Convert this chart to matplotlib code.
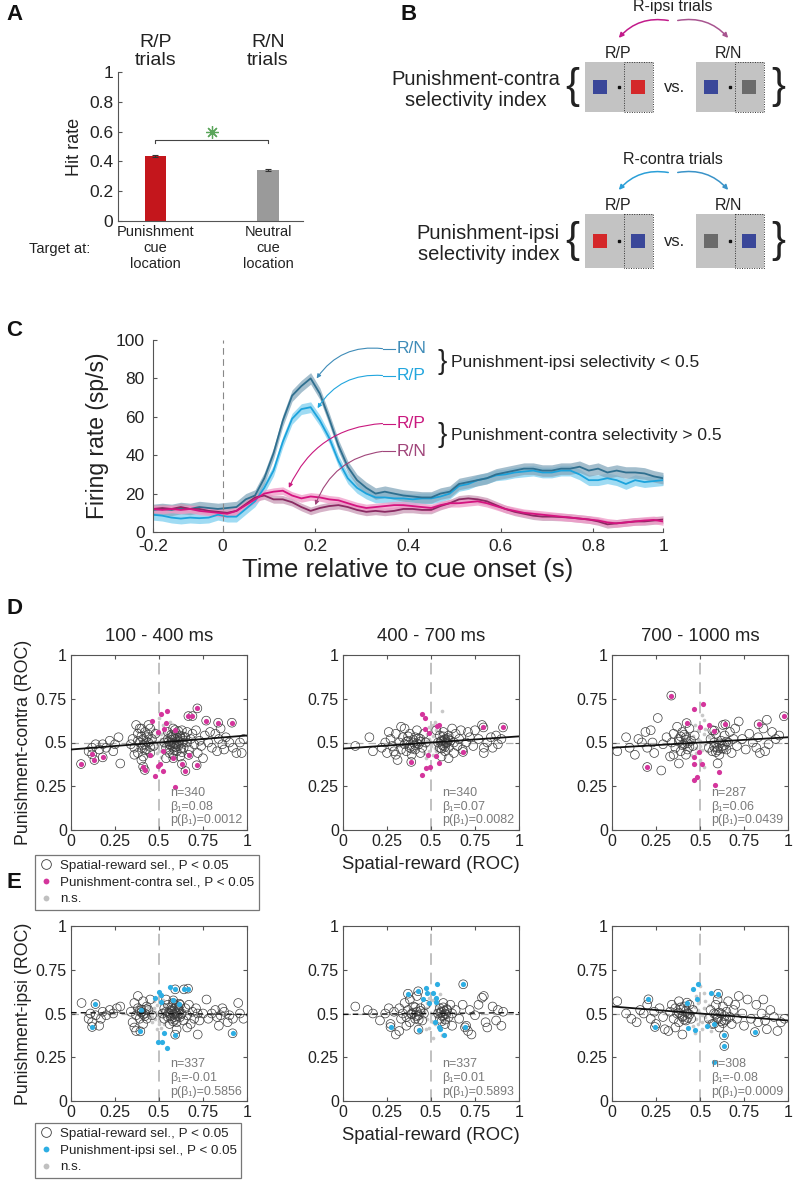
import numpy as np
import matplotlib.pyplot as plt
from matplotlib.patches import Rectangle, FancyArrowPatch
from matplotlib.lines import Line2D

plt.rcParams['font.family'] = ['Liberation Sans', 'DejaVu Sans']
NARROW = ['Liberation Sans Narrow', 'Liberation Sans', 'DejaVu Sans']

# ---------------- data ----------------
# Panel A: hit rate
hit_labels = ['Punishment\ncue\nlocation', 'Neutral\ncue\nlocation']
hit_titles = ['R/P\ntrials', 'R/N\ntrials']
hit_rate = [0.435, 0.345]
hit_err = [0.006, 0.007]

# Panel C: firing rate (sp/s), time in s
t_fr = np.arange(-0.15, 0.951, 0.02)
fr_ipsi_rn = [11.5, 12, 11.5, 12.5, 12, 13, 12.5, 12, 12.5, 13, 17, 19, 28, 41, 58, 71, 76, 80,
              72, 59, 45, 34, 27, 23, 20, 21, 20, 19, 18.5, 18, 18, 20, 21, 25, 26, 27, 28, 30,
              31, 32, 33, 33, 32, 32, 33, 33, 34, 32, 33, 31, 32, 31, 31, 30.5, 29, 28]
fr_ipsi_rp = [9, 8.5, 7.5, 7, 7.5, 7.2, 7.5, 9, 8, 8, 12, 16, 23, 32, 47, 59, 64, 65,
              58, 49, 37, 28, 23, 20, 18, 18, 17.5, 17.5, 17, 17.5, 17.5, 18.5, 20, 24, 25, 27, 28, 29.5,
              30, 31, 31.5, 32, 31, 31, 32, 32, 30, 27, 27, 28, 27, 25, 27, 26, 26.5, 27]
fr_contra_rp = [12, 11.5, 12, 11.5, 12, 11, 10.5, 10, 9.5, 11, 14, 17, 20, 21, 21.5, 19, 17.5, 18.5,
                18, 17, 16.5, 15, 13.5, 12.5, 13, 13.5, 14, 14, 13.5, 13, 12.5, 14, 15, 15, 15.5, 16, 15, 13.5,
                12, 11, 10, 9.5, 9, 8.5, 8, 7.5, 7, 6.5, 6, 5, 4.5, 5, 5.5, 6, 6.3, 5.5]
fr_contra_rn = [12, 12.5, 12, 13, 12, 12, 11, 10.5, 10, 11, 14.5, 18, 19, 17, 17, 15.5, 13, 11,
                12.5, 13.5, 14, 13, 11.5, 10.5, 11, 10.5, 11, 12, 12, 11.5, 11.5, 13.5, 15, 17, 17.5, 17, 16, 14,
                12, 10.5, 9.5, 8.5, 8, 8, 7.8, 7.5, 7, 6.5, 5.5, 4, 4.5, 5, 5.5, 5.5, 6, 6.5]
fr_sem = [3.0, 2.8, 2.0, 2.0]

# Panels D/E: ROC scatter; open = spatial-reward sel. only, sel = selective dots
# (selc: also spatial-reward sel., drawn circled), ns = not significant
d1_open_x = [0.10, 0.12, 0.14, 0.16, 0.18, 0.20, 0.22, 0.24, 0.25, 0.27, 0.28, 0.34, 0.35, 0.36, 0.37, 0.38, 0.38,
             0.39, 0.40, 0.40, 0.41, 0.41, 0.42, 0.42, 0.43, 0.43, 0.44, 0.45, 0.45, 0.46, 0.47, 0.48, 0.36, 0.39,
             0.44, 0.40, 0.53, 0.54, 0.55, 0.55, 0.56, 0.56, 0.57, 0.57, 0.58, 0.58, 0.59, 0.59, 0.60, 0.60, 0.61,
             0.61, 0.62, 0.62, 0.63, 0.63, 0.64, 0.65, 0.66, 0.66, 0.67, 0.68, 0.69, 0.70, 0.71, 0.72, 0.73, 0.74,
             0.75, 0.76, 0.54, 0.58, 0.78, 0.80, 0.82, 0.83, 0.84, 0.85, 0.86, 0.88, 0.90, 0.92, 0.94, 0.96, 0.97,
             0.98, 0.79, 0.87,
             0.555, 0.565, 0.575, 0.585, 0.595, 0.605, 0.615, 0.625, 0.635, 0.57, 0.59, 0.61, 0.63, 0.56, 0.58,
             0.60, 0.62, 0.64, 0.41, 0.43, 0.45, 0.38, 0.40, 0.42, 0.44]
d1_open_y = [0.45, 0.47, 0.49, 0.46, 0.49, 0.47, 0.51, 0.45, 0.49, 0.53, 0.38, 0.49, 0.52, 0.47, 0.60, 0.55, 0.44,
             0.50, 0.58, 0.47, 0.52, 0.42, 0.49, 0.56, 0.46, 0.53, 0.50, 0.58, 0.44, 0.52, 0.48, 0.55, 0.43, 0.58,
             0.60, 0.40, 0.50, 0.47, 0.52, 0.56, 0.49, 0.44, 0.53, 0.50, 0.47, 0.58, 0.52, 0.49, 0.55, 0.45, 0.51,
             0.48, 0.54, 0.42, 0.50, 0.57, 0.47, 0.53, 0.50, 0.56, 0.46, 0.52, 0.55, 0.49, 0.57, 0.44, 0.51, 0.48,
             0.41, 0.54, 0.41, 0.43, 0.50, 0.47, 0.55, 0.45, 0.52, 0.58, 0.49, 0.53, 0.50, 0.47, 0.44, 0.50, 0.44,
             0.52, 0.56, 0.46,
             0.505, 0.485, 0.515, 0.495, 0.475, 0.525, 0.505, 0.465, 0.535, 0.545, 0.455, 0.565, 0.445, 0.46, 0.54,
             0.49, 0.53, 0.51, 0.485, 0.505, 0.475, 0.51, 0.535, 0.455, 0.545]
d1_selc_x = [0.057, 0.12, 0.133, 0.18, 0.41, 0.419, 0.59, 0.581, 0.63, 0.65, 0.667, 0.69, 0.669, 0.718, 0.714,
             0.768, 0.836, 0.914]
d1_selc_y = [0.377, 0.432, 0.40, 0.415, 0.362, 0.343, 0.571, 0.41, 0.377, 0.337, 0.651, 0.651, 0.429, 0.695,
             0.37, 0.625, 0.613, 0.613]
d1_sel_x = [0.448, 0.461, 0.476, 0.497, 0.512, 0.547, 0.539, 0.53, 0.52, 0.505, 0.497, 0.52, 0.59]
d1_sel_y = [0.429, 0.625, 0.309, 0.56, 0.663, 0.682, 0.61, 0.575, 0.451, 0.377, 0.366, 0.339, 0.248]
d1_ns_x = [0.45, 0.47, 0.48, 0.49, 0.50, 0.50, 0.51, 0.52, 0.53, 0.48, 0.46, 0.52, 0.51, 0.49, 0.54, 0.47, 0.50,
           0.55, 0.45, 0.53, 0.49, 0.51, 0.56, 0.44]
d1_ns_y = [0.50, 0.53, 0.47, 0.55, 0.50, 0.45, 0.52, 0.48, 0.56, 0.51, 0.49, 0.60, 0.42, 0.44, 0.53, 0.58, 0.64,
           0.48, 0.55, 0.45, 0.49, 0.55, 0.62, 0.52]

d2_open_x = [0.07, 0.15, 0.17, 0.22, 0.24, 0.25, 0.27, 0.28, 0.30, 0.30, 0.31, 0.32, 0.33, 0.34, 0.35, 0.35, 0.36,
             0.37, 0.38, 0.38, 0.39, 0.40, 0.41, 0.41, 0.42, 0.43, 0.44, 0.44, 0.45, 0.46, 0.47, 0.26, 0.29, 0.33,
             0.54, 0.55, 0.55, 0.56, 0.57, 0.57, 0.58, 0.58, 0.59, 0.60, 0.60, 0.61, 0.62, 0.63, 0.63, 0.64, 0.65,
             0.66, 0.67, 0.68, 0.70, 0.71, 0.72, 0.56, 0.60, 0.53, 0.74, 0.75, 0.77, 0.79, 0.80, 0.82, 0.84, 0.85,
             0.87, 0.88, 0.90, 0.80,
             0.555, 0.565, 0.575, 0.585, 0.595, 0.57, 0.58, 0.59, 0.56, 0.60, 0.36, 0.38, 0.40, 0.42, 0.44, 0.37,
             0.39, 0.41, 0.43]
d2_open_y = [0.48, 0.53, 0.45, 0.47, 0.50, 0.44, 0.52, 0.48, 0.55, 0.43, 0.40, 0.50, 0.46, 0.53, 0.49, 0.58, 0.45,
             0.51, 0.47, 0.55, 0.43, 0.50, 0.53, 0.46, 0.57, 0.49, 0.52, 0.44, 0.47, 0.55, 0.50, 0.56, 0.45, 0.59,
             0.50, 0.47, 0.54, 0.51, 0.48, 0.56, 0.52, 0.45, 0.50, 0.54, 0.47, 0.51, 0.58, 0.44, 0.50, 0.55, 0.48,
             0.52, 0.57, 0.46, 0.50, 0.56, 0.53, 0.42, 0.41, 0.57, 0.48, 0.57, 0.52, 0.60, 0.44, 0.50, 0.53, 0.47,
             0.54, 0.49, 0.52, 0.47,
             0.505, 0.485, 0.515, 0.495, 0.525, 0.535, 0.475, 0.505, 0.465, 0.515, 0.505, 0.485, 0.515, 0.495,
             0.505, 0.535, 0.465, 0.485, 0.525]
d2_selc_x = [0.388, 0.798, 0.909, 0.682]
d2_selc_y = [0.389, 0.586, 0.586, 0.446]
d2_sel_x = [0.449, 0.468, 0.466, 0.487, 0.534, 0.544, 0.482, 0.472, 0.497, 0.447, 0.528, 0.546]
d2_sel_y = [0.662, 0.641, 0.579, 0.556, 0.592, 0.601, 0.429, 0.355, 0.36, 0.317, 0.421, 0.383]
d2_ns_x = [0.45, 0.47, 0.48, 0.49, 0.50, 0.51, 0.52, 0.53, 0.48, 0.46, 0.52, 0.51, 0.49, 0.54, 0.47, 0.50, 0.55,
           0.56, 0.53, 0.49, 0.51, 0.44, 0.57]
d2_ns_y = [0.52, 0.48, 0.55, 0.45, 0.50, 0.54, 0.47, 0.57, 0.51, 0.44, 0.62, 0.43, 0.59, 0.51, 0.41, 0.48, 0.56,
           0.68, 0.45, 0.52, 0.60, 0.49, 0.53]

d3_open_x = [0.03, 0.08, 0.10, 0.13, 0.15, 0.17, 0.19, 0.20, 0.22, 0.23, 0.24, 0.26, 0.28, 0.29, 0.31, 0.33, 0.34,
             0.35, 0.36, 0.37, 0.38, 0.39, 0.40, 0.41, 0.42, 0.43, 0.44, 0.45, 0.46, 0.47, 0.38, 0.42, 0.35, 0.55,
             0.56, 0.57, 0.58, 0.59, 0.60, 0.61, 0.62, 0.63, 0.64, 0.65, 0.66, 0.67, 0.68, 0.69, 0.70, 0.71, 0.72,
             0.60, 0.63, 0.57, 0.74, 0.76, 0.78, 0.80, 0.82, 0.83, 0.84, 0.86, 0.88, 0.89, 0.91, 0.93, 0.95, 0.87,
             0.38, 0.40, 0.42, 0.44, 0.39, 0.41, 0.43, 0.58, 0.60, 0.62, 0.64, 0.59, 0.61, 0.63, 0.65]
d3_open_y = [0.45, 0.53, 0.47, 0.43, 0.52, 0.50, 0.56, 0.47, 0.57, 0.50, 0.44, 0.64, 0.34, 0.49, 0.53, 0.42, 0.50,
             0.55, 0.47, 0.59, 0.52, 0.45, 0.56, 0.49, 0.53, 0.46, 0.58, 0.51, 0.48, 0.54, 0.38, 0.43, 0.43, 0.47,
             0.52, 0.45, 0.50, 0.55, 0.47, 0.43, 0.51, 0.48, 0.54, 0.46, 0.50, 0.56, 0.44, 0.52, 0.58, 0.48, 0.62,
             0.38, 0.60, 0.57, 0.52, 0.46, 0.55, 0.50, 0.47, 0.53, 0.44, 0.58, 0.63, 0.49, 0.56, 0.52, 0.54, 0.45,
             0.505, 0.485, 0.515, 0.475, 0.535, 0.545, 0.495, 0.475, 0.455, 0.465, 0.485, 0.445, 0.495, 0.465, 0.505]
d3_selc_x = [0.337, 0.20, 0.424, 0.581, 0.644, 0.833, 0.977]
d3_selc_y = [0.768, 0.36, 0.611, 0.568, 0.604, 0.604, 0.65]
d3_sel_x = [0.464, 0.515, 0.498, 0.549, 0.496, 0.466, 0.466, 0.511, 0.606, 0.481, 0.464, 0.583]
d3_sel_y = [0.69, 0.722, 0.59, 0.60, 0.448, 0.415, 0.379, 0.377, 0.333, 0.305, 0.284, 0.255]
d3_ns_x = [0.44, 0.46, 0.48, 0.49, 0.50, 0.51, 0.52, 0.53, 0.47, 0.45, 0.52, 0.50, 0.49, 0.54, 0.47, 0.51, 0.55,
           0.43, 0.53, 0.48, 0.50, 0.56, 0.46, 0.52]
d3_ns_y = [0.50, 0.54, 0.47, 0.57, 0.51, 0.46, 0.55, 0.49, 0.60, 0.43, 0.63, 0.40, 0.52, 0.45, 0.38, 0.66, 0.53,
           0.55, 0.58, 0.44, 0.48, 0.47, 0.51, 0.36]

e1_open_x = [0.06, 0.10, 0.11, 0.12, 0.14, 0.16, 0.18, 0.20, 0.22, 0.24, 0.26, 0.28, 0.17, 0.34, 0.35, 0.36, 0.37,
             0.37, 0.38, 0.38, 0.39, 0.40, 0.41, 0.41, 0.42, 0.43, 0.43, 0.44, 0.45, 0.46, 0.36, 0.52, 0.53, 0.53,
             0.54, 0.55, 0.55, 0.56, 0.56, 0.57, 0.57, 0.58, 0.58, 0.59, 0.59, 0.60, 0.60, 0.61, 0.62, 0.62, 0.63,
             0.64, 0.65, 0.66, 0.67, 0.68, 0.69, 0.70, 0.71, 0.72, 0.73, 0.72, 0.66, 0.54, 0.60, 0.75, 0.77, 0.78,
             0.80, 0.82, 0.83, 0.84, 0.85, 0.87, 0.89, 0.90, 0.92, 0.95, 0.96, 0.98, 0.86,
             0.555, 0.565, 0.575, 0.585, 0.595, 0.605, 0.615, 0.625, 0.57, 0.59, 0.61, 0.58, 0.60, 0.40, 0.42,
             0.39, 0.41, 0.43]
e1_open_y = [0.56, 0.47, 0.50, 0.45, 0.49, 0.43, 0.51, 0.49, 0.52, 0.50, 0.53, 0.54, 0.47, 0.51, 0.45, 0.56, 0.49,
             0.40, 0.53, 0.60, 0.47, 0.51, 0.57, 0.44, 0.50, 0.54, 0.47, 0.52, 0.58, 0.49, 0.42, 0.50, 0.53, 0.47,
             0.51, 0.55, 0.48, 0.50, 0.44, 0.52, 0.47, 0.50, 0.56, 0.48, 0.53, 0.50, 0.45, 0.52, 0.48, 0.55, 0.50,
             0.46, 0.53, 0.49, 0.55, 0.44, 0.51, 0.47, 0.53, 0.50, 0.46, 0.38, 0.42, 0.58, 0.41, 0.50, 0.58, 0.47,
             0.50, 0.52, 0.48, 0.43, 0.49, 0.51, 0.45, 0.49, 0.47, 0.56, 0.50, 0.47, 0.53,
             0.505, 0.485, 0.515, 0.495, 0.505, 0.485, 0.515, 0.495, 0.535, 0.465, 0.535, 0.455, 0.545, 0.505,
             0.485, 0.515, 0.495, 0.525]
e1_selc_x = [0.139, 0.12, 0.40, 0.394, 0.592, 0.642, 0.665, 0.581, 0.615, 0.592, 0.918]
e1_selc_y = [0.554, 0.423, 0.522, 0.398, 0.638, 0.638, 0.642, 0.575, 0.556, 0.379, 0.387]
e1_sel_x = [0.478, 0.501, 0.512, 0.509, 0.562, 0.526, 0.516, 0.493, 0.547]
e1_sel_y = [0.59, 0.623, 0.608, 0.566, 0.65, 0.387, 0.339, 0.339, 0.305]
e1_ns_x = [0.45, 0.47, 0.48, 0.49, 0.50, 0.50, 0.51, 0.52, 0.53, 0.48, 0.46, 0.52, 0.51, 0.49, 0.54, 0.47, 0.50,
           0.44, 0.53, 0.49, 0.51, 0.46]
e1_ns_y = [0.50, 0.53, 0.47, 0.55, 0.50, 0.44, 0.52, 0.48, 0.55, 0.51, 0.45, 0.58, 0.42, 0.41, 0.52, 0.57, 0.46,
           0.54, 0.44, 0.49, 0.60, 0.48]

e2_open_x = [0.07, 0.14, 0.17, 0.21, 0.24, 0.26, 0.27, 0.29, 0.30, 0.32, 0.33, 0.32, 0.34, 0.35, 0.36, 0.37, 0.38,
             0.38, 0.39, 0.40, 0.41, 0.42, 0.42, 0.43, 0.44, 0.45, 0.46, 0.47, 0.36, 0.54, 0.55, 0.55, 0.56, 0.57,
             0.57, 0.58, 0.58, 0.59, 0.60, 0.61, 0.62, 0.62, 0.64, 0.66, 0.68, 0.70, 0.71, 0.73, 0.72, 0.75, 0.77,
             0.79, 0.80, 0.81, 0.82, 0.85, 0.87, 0.88, 0.90, 0.91,
             0.555, 0.565, 0.575, 0.585, 0.57, 0.58, 0.56, 0.59, 0.40, 0.42, 0.44, 0.41, 0.43, 0.39]
e2_open_y = [0.54, 0.52, 0.50, 0.46, 0.50, 0.53, 0.44, 0.51, 0.38, 0.40, 0.47, 0.53, 0.50, 0.56, 0.48, 0.52, 0.45,
             0.58, 0.50, 0.54, 0.47, 0.51, 0.60, 0.49, 0.53, 0.46, 0.50, 0.55, 0.43, 0.50, 0.47, 0.53, 0.51, 0.49,
             0.56, 0.50, 0.44, 0.52, 0.48, 0.55, 0.50, 0.43, 0.52, 0.47, 0.55, 0.43, 0.40, 0.38, 0.52, 0.49, 0.55,
             0.59, 0.60, 0.45, 0.42, 0.54, 0.46, 0.52, 0.43, 0.51,
             0.505, 0.485, 0.515, 0.495, 0.535, 0.465, 0.455, 0.525, 0.505, 0.485, 0.515, 0.535, 0.465, 0.495]
e2_selc_x = [0.369, 0.427, 0.429, 0.27, 0.683, 0.693]
e2_selc_y = [0.613, 0.627, 0.408, 0.423, 0.667, 0.421]
e2_sel_x = [0.472, 0.478, 0.511, 0.536, 0.452, 0.487, 0.526, 0.53, 0.52, 0.544, 0.573, 0.551]
e2_sel_y = [0.648, 0.617, 0.619, 0.67, 0.585, 0.56, 0.59, 0.566, 0.451, 0.423, 0.375, 0.413]
e2_ns_x = [0.45, 0.47, 0.48, 0.49, 0.50, 0.51, 0.52, 0.53, 0.48, 0.46, 0.52, 0.51, 0.49, 0.54, 0.47, 0.50, 0.55,
           0.56, 0.53, 0.49, 0.51, 0.44, 0.57, 0.55]
e2_ns_y = [0.50, 0.53, 0.47, 0.55, 0.50, 0.45, 0.52, 0.48, 0.56, 0.51, 0.44, 0.58, 0.42, 0.53, 0.41, 0.46, 0.49,
           0.38, 0.55, 0.59, 0.36, 0.52, 0.45, 0.61]

e3_open_x = [0.03, 0.08, 0.11, 0.14, 0.16, 0.18, 0.20, 0.22, 0.24, 0.25, 0.27, 0.29, 0.30, 0.32, 0.33, 0.34, 0.35,
             0.36, 0.37, 0.38, 0.38, 0.39, 0.40, 0.41, 0.42, 0.43, 0.44, 0.45, 0.46, 0.40, 0.36, 0.55, 0.56, 0.57,
             0.58, 0.59, 0.60, 0.61, 0.62, 0.63, 0.64, 0.65, 0.66, 0.67, 0.68, 0.69, 0.70, 0.71, 0.72, 0.60, 0.74,
             0.75, 0.77, 0.79, 0.82, 0.83, 0.85, 0.87, 0.88, 0.90, 0.92, 0.94, 0.96, 0.98, 0.86,
             0.38, 0.40, 0.42, 0.44, 0.41, 0.43, 0.39, 0.60, 0.62, 0.64, 0.61, 0.63, 0.65, 0.59]
e3_open_y = [0.57, 0.50, 0.47, 0.45, 0.52, 0.50, 0.55, 0.47, 0.51, 0.44, 0.53, 0.48, 0.41, 0.40, 0.51, 0.55, 0.47,
             0.53, 0.50, 0.45, 0.57, 0.52, 0.48, 0.54, 0.46, 0.50, 0.55, 0.47, 0.52, 0.38, 0.42, 0.47, 0.52, 0.44,
             0.50, 0.55, 0.47, 0.42, 0.50, 0.54, 0.46, 0.51, 0.57, 0.48, 0.44, 0.52, 0.55, 0.47, 0.60, 0.58, 0.50,
             0.43, 0.58, 0.47, 0.55, 0.45, 0.50, 0.46, 0.41, 0.52, 0.48, 0.40, 0.45, 0.47, 0.58,
             0.505, 0.485, 0.515, 0.495, 0.465, 0.475, 0.535, 0.475, 0.455, 0.485, 0.505, 0.445, 0.465, 0.495]
e3_selc_x = [0.207, 0.244, 0.426, 0.603, 0.58, 0.636, 0.638, 0.812]
e3_selc_y = [0.581, 0.423, 0.562, 0.613, 0.442, 0.375, 0.314, 0.394]
e3_sel_x = [0.433, 0.472, 0.46, 0.487, 0.485, 0.561, 0.538, 0.578]
e3_sel_y = [0.415, 0.408, 0.642, 0.667, 0.585, 0.617, 0.429, 0.223]
e3_ns_x = [0.45, 0.47, 0.48, 0.49, 0.50, 0.51, 0.52, 0.53, 0.48, 0.46, 0.52, 0.51, 0.49, 0.54, 0.47, 0.50, 0.55,
           0.44, 0.53, 0.49, 0.51, 0.56]
e3_ns_y = [0.50, 0.54, 0.47, 0.56, 0.50, 0.45, 0.53, 0.48, 0.60, 0.43, 0.62, 0.41, 0.52, 0.46, 0.39, 0.66, 0.55,
           0.53, 0.57, 0.44, 0.49, 0.40]

window_titles = ['100 - 400 ms', '400 - 700 ms', '700 - 1000 ms']
d_n = [340, 340, 287]
d_beta = [0.08, 0.07, 0.06]
d_p = ['0.0012', '0.0082', '0.0439']
e_n = [337, 337, 308]
e_beta = [-0.01, 0.01, -0.08]
e_p = ['0.5856', '0.5893', '0.0009']

# ---------------- figure ----------------
W, H = 794, 1181
fig = plt.figure(figsize=(W / 100, H / 100), dpi=100)


def px_axes(l, t, r, b):
    return fig.add_axes([l / W, 1 - b / H, (r - l) / W, (b - t) / H])


TXT = '#222222'

# ---- Panel A ----
axA = px_axes(118, 72, 303, 221)
axA.bar([1, 2], hit_rate, width=0.19, color=['#c4161c', '#9a9a9a'], yerr=hit_err,
        error_kw=dict(ecolor='#333333', elinewidth=0.8, capsize=2, capthick=0.8))
axA.set_xlim(0.67, 2.31)
axA.set_ylim(0, 1)
axA.set_yticks([0, 0.2, 0.4, 0.6, 0.8, 1])
axA.set_yticklabels(['0', '0.2', '0.4', '0.6', '0.8', '1'])
axA.set_xticks([])
axA.spines[['top', 'right']].set_visible(False)
for s in axA.spines.values():
    s.set_color('#555555')
axA.tick_params(direction='in', labelsize=12.5, length=3, color='#555555', labelcolor=TXT)
axA.set_ylabel('Hit rate', fontsize=13, color=TXT, labelpad=4)
axA.plot([1, 1, 2, 2], [0.525, 0.545, 0.545, 0.525], color='#444444', lw=0.8)
axA.plot([1.5], [0.595], marker=(8, 2, 0), color='#5aa55a', ms=9, mew=0.9)
for i, (ttl, lab) in enumerate(zip(hit_titles, hit_labels)):
    axA.text(i + 1, 1.02, ttl, ha='center', va='bottom', fontsize=14, color=TXT,
             transform=axA.get_xaxis_transform(), linespacing=1.05)
    axA.text(i + 1, -0.03, lab, ha='center', va='top', fontsize=10.5, color=TXT,
             transform=axA.get_xaxis_transform(), linespacing=1.15)

# ---- Panel C ----
axC = px_axes(153, 340, 663, 532)
c_series = [
    (fr_ipsi_rp, '#1ca3dc', '#7fcff0'),
    (fr_ipsi_rn, '#2f6f8f', '#86a9bd'),
    (fr_contra_rn, '#8a2a62', '#c99ab6'),
    (fr_contra_rp, '#d4137f', '#f09ac8'),
]
sem_order = [fr_sem[1], fr_sem[0], fr_sem[3], fr_sem[2]]
for (vals, lc, fc), sem in zip(c_series, sem_order):
    v = np.array(vals)
    axC.fill_between(t_fr, v - sem, v + sem, color=fc, alpha=0.75, lw=0)
    axC.plot(t_fr, v, color=lc, lw=1.3)
axC.plot([0, 0], [0, 100], color='#888888', lw=0.8, ls=(0, (6, 4)))
axC.set_xlim(-0.15, 0.95)
axC.set_ylim(0, 100)
axC.set_xticks([-0.15, 0, 0.2, 0.4, 0.6, 0.8, 0.95])
axC.set_xticklabels(['-0.2', '0', '0.2', '0.4', '0.6', '0.8', '1'])
axC.set_yticks([0, 20, 40, 60, 80, 100])
axC.spines[['top', 'right']].set_visible(False)
for s in axC.spines.values():
    s.set_color('#555555')
axC.tick_params(direction='in', labelsize=12.5, length=3, color='#555555', labelcolor=TXT)
axC.tick_params(axis='x', pad=5)
axC.tick_params(axis='y', pad=6)
for lab in axC.get_xticklabels() + axC.get_yticklabels():
    lab.set_family(NARROW)
axC.set_ylabel('Firing rate (sp/s)', fontsize=16.5, color=TXT, labelpad=5)
axC.set_xlabel('Time relative to cue onset (s)', fontsize=18.5, color=TXT, family=NARROW, labelpad=3)

c_labels = [('R/N', 95.5, (0.203, 80), '#3f8cb8'),
            ('R/P', 81.5, (0.205, 64.5), '#22a6de'),
            ('R/P', 56.5, (0.143, 23), '#c9187e'),
            ('R/N', 42, (0.2, 14), '#a0457a')]
for txt, yy, tip, col in c_labels:
    axC.text(0.376, yy, txt, color=col, fontsize=12.5, family=NARROW, va='center', ha='left')
    axC.plot([0.345, 0.373], [yy, yy], color=col, lw=0.8)
    axC.annotate('', xy=tip, xytext=(0.345, yy),
                 arrowprops=dict(arrowstyle='-|>', color=col, lw=0.8, mutation_scale=6,
                                 connectionstyle='arc3,rad=0.3', shrinkA=0, shrinkB=0))
for yy, txt in [(88.5, 'Punishment-ipsi selectivity < 0.5'), (50.5, 'Punishment-contra selectivity > 0.5')]:
    axC.text(0.463, yy, '}', fontsize=20, va='center', ha='left', color=TXT, clip_on=False)
    axC.text(0.493, yy, txt, fontsize=12.5, va='center', family=NARROW, color=TXT, clip_on=False)

# ---- Panels D / E ----
MAG = '#d4359c'
CYA = '#2daee3'


def scatter_panel(ax, ox, oy, scx, scy, sx, sy, nx, ny, col, beta, n, p):
    ax.plot([0.5, 0.5], [0, 1], color='#c0c0c0', lw=1.4, ls=(0, (6, 4)), zorder=0)
    ax.plot([0, 1], [0.5, 0.5], color='#b0b0b0', lw=0.9, ls=(0, (6, 4)), zorder=0)
    ax.scatter(nx, ny, s=7, color='#c8c8c8', lw=0, zorder=1)
    ax.scatter(list(ox) + list(scx), list(oy) + list(scy), s=40, facecolors='none',
               edgecolors='#3c3c3c', lw=0.5, zorder=2)
    ax.scatter(list(sx) + list(scx), list(sy) + list(scy), s=14, color=col, lw=0, zorder=3)
    xs = np.array([0, 1])
    line = np.polyval([beta, 0.5 - beta / 2], xs)
    sig = float(p) < 0.05
    ax.plot(xs, line, color='#111111', lw=1.3 if sig else 1.0,
            ls='-' if sig else (0, (4, 3)), zorder=4)
    ax.text(0.565, 0.02, f'n={n}\nβ₁={beta:g}\np(β₁)={p}', fontsize=9, color='#7a7a7a',
            va='bottom', ha='left', linespacing=1.2, zorder=5)
    ax.set_xlim(0, 1)
    ax.set_ylim(0, 1)
    ticks = [0, 0.25, 0.5, 0.75, 1]
    tl = ['0', '0.25', '0.5', '0.75', '1']
    ax.set_xticks(ticks)
    ax.set_xticklabels(tl)
    ax.set_yticks(ticks)
    ax.set_yticklabels(tl)
    ax.tick_params(direction='in', top=True, right=True, labelsize=11.5, length=3,
                   color='#555555', labelcolor=TXT, pad=3)
    for s in ax.spines.values():
        s.set_color('#555555')


col_lefts = [71, 343, 612]
d_data = [(d1_open_x, d1_open_y, d1_selc_x, d1_selc_y, d1_sel_x, d1_sel_y, d1_ns_x, d1_ns_y),
          (d2_open_x, d2_open_y, d2_selc_x, d2_selc_y, d2_sel_x, d2_sel_y, d2_ns_x, d2_ns_y),
          (d3_open_x, d3_open_y, d3_selc_x, d3_selc_y, d3_sel_x, d3_sel_y, d3_ns_x, d3_ns_y)]
e_data = [(e1_open_x, e1_open_y, e1_selc_x, e1_selc_y, e1_sel_x, e1_sel_y, e1_ns_x, e1_ns_y),
          (e2_open_x, e2_open_y, e2_selc_x, e2_selc_y, e2_sel_x, e2_sel_y, e2_ns_x, e2_ns_y),
          (e3_open_x, e3_open_y, e3_selc_x, e3_selc_y, e3_sel_x, e3_sel_y, e3_ns_x, e3_ns_y)]

for i, left in enumerate(col_lefts):
    axD = px_axes(left, 655, left + 176, 830)
    scatter_panel(axD, *d_data[i], MAG, d_beta[i], d_n[i], d_p[i])
    axD.set_title(window_titles[i], fontsize=13.3, color=TXT, pad=10)
    axE = px_axes(left, 926, left + 176, 1101)
    scatter_panel(axE, *e_data[i], CYA, e_beta[i], e_n[i], e_p[i])
    if i == 0:
        axD.set_ylabel('Punishment-contra (ROC)', fontsize=12.8, color=TXT, labelpad=3)
        axE.set_ylabel('Punishment-ipsi (ROC)', fontsize=12.8, color=TXT, labelpad=3)
    if i == 1:
        axD.set_xlabel('Spatial-reward (ROC)', fontsize=13.3, color=TXT, labelpad=5)
        axE.set_xlabel('Spatial-reward (ROC)', fontsize=13.3, color=TXT, labelpad=5)


def legend_handles(col, name):
    return [Line2D([], [], ls='none', marker='o', mfc='none', mec='#3c3c3c', mew=0.6, ms=7,
                   label='Spatial-reward sel., P < 0.05'),
            Line2D([], [], ls='none', marker='o', mfc=col, mec='none', ms=4.2, label=name),
            Line2D([], [], ls='none', marker='o', mfc='#c0c0c0', mec='none', ms=4.2, label='n.s.')]


for ytop, col, name in [(855, MAG, 'Punishment-contra sel., P < 0.05'),
                        (1123, CYA, 'Punishment-ipsi sel., P < 0.05')]:
    leg = fig.legend(handles=legend_handles(col, name), loc='upper left',
                     bbox_to_anchor=(35 / W, 1 - ytop / H), fontsize=9.6, frameon=True,
                     fancybox=False, handlelength=1.0, handletextpad=0.5, borderpad=0.35,
                     labelspacing=0.32, borderaxespad=0)
    leg.get_frame().set_edgecolor('#555555')
    leg.get_frame().set_linewidth(0.9)
    for t in leg.get_texts():
        t.set_color(TXT)

# ---- overlay in pixel coordinates: panel letters + panel B schematic ----
ov = fig.add_axes([0, 0, 1, 1])
ov.set_xlim(0, W)
ov.set_ylim(H, 0)
ov.axis('off')
ov.patch.set_alpha(0)

for letter, x, y in [('A', 6, 14), ('B', 400, 14), ('C', 6, 330), ('D', 6, 608), ('E', 6, 882)]:
    ov.text(x, y, letter, fontsize=16, fontweight='bold', va='center', ha='left', color='#111111')
ov.text(90, 249, 'Target at:', fontsize=10.5, ha='right', va='center', color=TXT)

BLUE_SQ = '#3a4799'
RED_SQ = '#d4282a'
GRAY_SQ = '#6b6b6b'
rows = [
    dict(top=62, bot=112, label='Punishment-contra\nselectivity index', trial='R-ipsi trials',
         arc=('#c21a8a', '#a85590'), sq=[(BLUE_SQ, RED_SQ), (BLUE_SQ, GRAY_SQ)]),
    dict(top=214, bot=268, label='Punishment-ipsi\nselectivity index', trial='R-contra trials',
         arc=('#2a9fd8', '#3a93c8'), sq=[(RED_SQ, BLUE_SQ), (GRAY_SQ, BLUE_SQ)]),
]
for r in rows:
    top, bot = r['top'], r['bot']
    mid = (top + bot) / 2
    ov.text(673, top - 55, r['trial'], fontsize=11.5, ha='center', va='center', color=TXT)
    ov.add_patch(FancyArrowPatch((671, top - 41), (617, top - 22), connectionstyle='arc3,rad=0.3',
                                 arrowstyle='-|>', mutation_scale=7, color=r['arc'][0], lw=1.1))
    ov.add_patch(FancyArrowPatch((675, top - 41), (730, top - 22), connectionstyle='arc3,rad=-0.3',
                                 arrowstyle='-|>', mutation_scale=7, color=r['arc'][1], lw=1.1))
    ov.text(618, top - 9, 'R/P', fontsize=11.5, ha='center', va='center', color=TXT)
    ov.text(728, top - 9, 'R/N', fontsize=11.5, ha='center', va='center', color=TXT)
    for bx, (c1, c2) in zip([585, 696], r['sq']):
        ov.add_patch(Rectangle((bx, top), 68, bot - top, facecolor='#c3c3c3', edgecolor='none'))
        ov.add_patch(Rectangle((bx + 39, top), 29, bot - top, facecolor='none', edgecolor='#333333',
                               lw=0.7, ls=(0, (1, 1.5))))
        ov.add_patch(Rectangle((bx + 8, mid - 7), 14, 14, facecolor=c1, edgecolor='none'))
        ov.add_patch(Rectangle((bx + 46, mid - 7), 14, 14, facecolor=c2, edgecolor='none'))
        ov.plot([bx + 34], [mid], marker='s', ms=1.6, color='#111111')
    ov.text(674, mid + 1, 'vs.', fontsize=12, ha='center', va='center', color=TXT)
    ov.text(572, mid, '{', fontsize=30, ha='center', va='center', color=TXT, fontweight='light')
    ov.text(778, mid, '}', fontsize=30, ha='center', va='center', color=TXT, fontweight='light')
    ov.text(560, mid + 3, r['label'], fontsize=14.5, ha='right', va='center', color=TXT,
            multialignment='center', linespacing=1.15)

fig.savefig('out.png', dpi=100)
